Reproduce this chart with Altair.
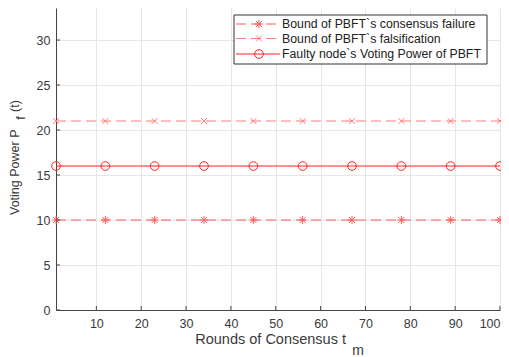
import altair as alt
import pandas as pd

# ---- data ----
rounds = [1, 12, 23, 34, 45, 56, 67, 78, 89, 100]
consensus_failure = [10, 10, 10, 10, 10, 10, 10, 10, 10, 10]
falsification = [21, 21, 21, 21, 21, 21, 21, 21, 21, 21]
faulty_power = [16, 16, 16, 16, 16, 16, 16, 16, 16, 16]
series_names = [
    "Bound of PBFT`s consensus failure",
    "Bound of PBFT`s falsification",
    "Faulty node`s Voting Power of PBFT",
]
x_ticks = [10, 20, 30, 40, 50, 60, 70, 80, 90, 100]
y_ticks = [0, 5, 10, 15, 20, 25, 30]

W, H = 444, 302
FONT = "Liberation Sans"
TXT = "#3a3a3a"

ASTERISK = "M-1,0L1,0M0,-1L0,1M-0.7,-0.7L0.7,0.7M-0.7,0.7L0.7,-0.7"
XMARK = "M-0.8,-0.8L0.8,0.8M-0.8,0.8L0.8,-0.8"
colors = ["#ff5a5a", "#ff7a7a", "#ff2020"]
dashes = [[10, 5], [10, 5], [1, 0]]
shapes = [ASTERISK, XMARK, "circle"]
sizes = [70, 55, 75]
series_vals = [consensus_failure, falsification, faulty_power]

rows = []
for name, vals in zip(series_names, series_vals):
    for r, v in zip(rounds, vals):
        rows.append({"series": name, "round": r, "value": v})
df = pd.DataFrame(rows)

xscale = alt.Scale(domain=[1, 100], nice=False, zero=False)
yscale = alt.Scale(domain=[0, 33.56], nice=False)
col_scale = alt.Scale(domain=series_names, range=colors)
dash_scale = alt.Scale(domain=series_names, range=dashes)

xaxis = alt.Axis(values=x_ticks, title=None, grid=True, gridColor="#e6e6e6",
                 tickSize=0, labelPadding=7, labelFont=FONT, labelFontSize=12.5,
                 labelColor=TXT, domainColor="#444444", labelFlush=True)
yaxis = alt.Axis(values=y_ticks, title=None, grid=True, gridColor="#e6e6e6",
                 tickSize=0, labelPadding=6, labelFont=FONT, labelFontSize=12.5,
                 labelColor=TXT, domainColor="#444444")

base = alt.Chart(df)
lines = base.mark_line(strokeWidth=1).encode(
    x=alt.X("round:Q", scale=xscale, axis=xaxis),
    y=alt.Y("value:Q", scale=yscale, axis=yaxis),
    color=alt.Color("series:N", scale=col_scale, legend=None),
    strokeDash=alt.StrokeDash("series:N", scale=dash_scale, legend=None),
    detail="series:N",
)

layers = [lines]
for name, shp, sz, c in zip(series_names, shapes, sizes, colors):
    layers.append(
        alt.Chart(df[df.series == name]).mark_point(
            shape=shp, size=sz, filled=False, strokeWidth=1, color=c, opacity=1
        ).encode(x="round:Q", y="value:Q")
    )

# inward ticks
xt = pd.DataFrame({"t": x_ticks})
yt = pd.DataFrame({"t": y_ticks})
layers.append(alt.Chart(xt).mark_rule(color="#444444", strokeWidth=1).encode(
    x="t:Q", y=alt.value(H), y2=alt.value(H - 4)))
layers.append(alt.Chart(yt).mark_rule(color="#444444", strokeWidth=1).encode(
    y="t:Q", x=alt.value(0), x2=alt.value(4)))

# axis titles (with subscripts)
one = pd.DataFrame({"a": [0]})
layers.append(alt.Chart(one).mark_text(
    text="Rounds of Consensus  t", align="right", baseline="middle",
    font=FONT, fontSize=14.5, color=TXT).encode(x=alt.value(290), y=alt.value(332)))
layers.append(alt.Chart(one).mark_text(
    text="m", align="center", baseline="middle",
    font=FONT, fontSize=14, color=TXT).encode(x=alt.value(302), y=alt.value(343)))
layers.append(alt.Chart(one).mark_text(
    text="Voting Power  P", align="left", baseline="middle", angle=270,
    font=FONT, fontSize=12.5, color=TXT).encode(x=alt.value(-41), y=alt.value(207)))
layers.append(alt.Chart(one).mark_text(
    text="f", align="center", baseline="middle", angle=270,
    font=FONT, fontSize=12.5, color=TXT).encode(x=alt.value(-35), y=alt.value(110)))
layers.append(alt.Chart(one).mark_text(
    text="(t)", align="left", baseline="middle", angle=270,
    font=FONT, fontSize=12.5, color=TXT).encode(x=alt.value(-41), y=alt.value(104)))

# legend box
layers.append(alt.Chart(one).mark_rect(
    fill="white", stroke="#333333", strokeWidth=1).encode(
    x=alt.value(178), x2=alt.value(431), y=alt.value(7), y2=alt.value(56)))
leg_y = [16, 30.5, 46]
for name, shp, sz, c, d, ly in zip(series_names, shapes, sizes, colors, dashes, leg_y):
    layers.append(alt.Chart(one).mark_rule(color=c, strokeWidth=1, strokeDash=d).encode(
        x=alt.value(180), x2=alt.value(224), y=alt.value(ly)))
    layers.append(alt.Chart(one).mark_point(shape=shp, size=sz, filled=False,
                                             strokeWidth=1, color=c, opacity=1).encode(
        x=alt.value(203), y=alt.value(ly)))
    layers.append(alt.Chart(one).mark_text(text=name, align="left", baseline="middle",
                                            font=FONT, fontSize=12.3, color="#222222").encode(
        x=alt.value(226), y=alt.value(ly)))

chart = alt.layer(*layers).properties(
    width=W, height=H,
    autosize=alt.AutoSizeParams(type="none"),
    padding={"left": 48, "top": 0, "right": 1, "bottom": 47},
).configure_view(stroke=None)

chart.save("out.html", embed_options={"renderer": "svg", "actions": False})
